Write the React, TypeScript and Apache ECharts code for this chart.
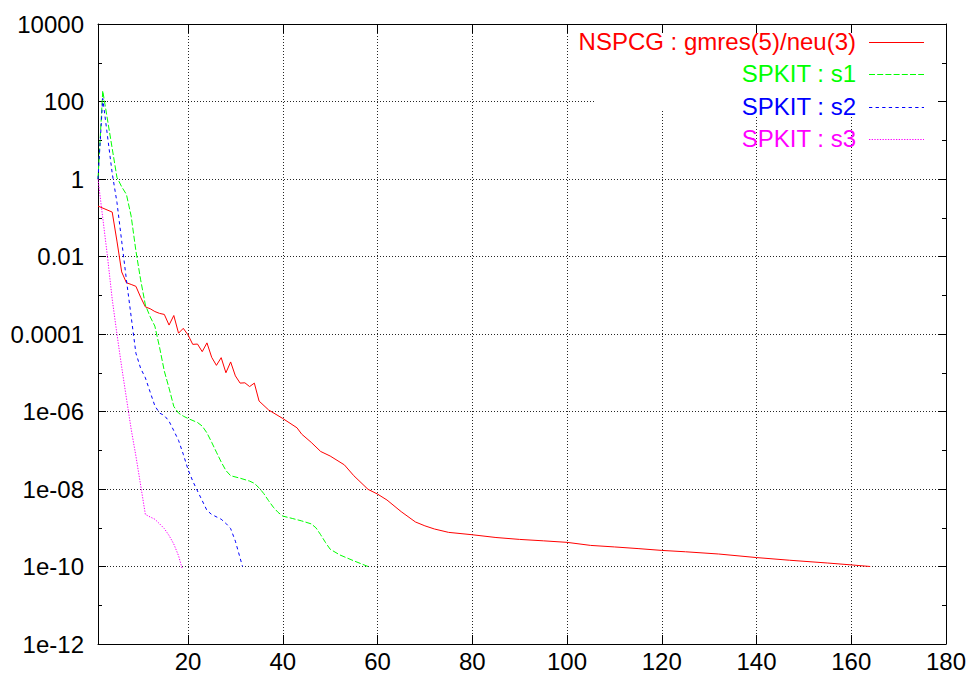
import { useEffect, useRef } from "react";
import * as echarts from "echarts";

const FONT = "'Liberation Sans', Arial, Helvetica, sans-serif";

const xTicks = [20, 40, 60, 80, 100, 120, 140, 160, 180];
const yTickLabels = ["1e-12", "1e-10", "1e-08", "1e-06", "0.0001", "0.01", "1", "100", "10000"];
const seriesNames = ["NSPCG : gmres(5)/neu(3)", "SPKIT : s1", "SPKIT : s2", "SPKIT : s3"];
const seriesColors = ["#ff0000", "#00ff00", "#0000ff", "#ff00ff"];

const nspcgIter = [1, 4, 5, 6, 7, 8, 9, 10, 11, 12, 13, 14, 15, 16, 17, 18, 19, 20, 21, 22, 23, 24, 25, 26, 27, 28, 29, 30, 31, 32, 33, 34, 35, 37, 40, 43, 44, 46, 48, 50, 53, 55, 58, 60, 62, 65, 68, 70, 72, 75, 80, 85, 90, 95, 100, 105, 110, 115, 120, 125, 132, 140, 147, 155, 160, 164];
const nspcgRes = [2.0e-1, 1.4e-1, 2.5e-2, 4.0e-3, 2.1e-3, 1.9e-3, 1.7e-3, 8.9e-4, 5.0e-4, 4.5e-4, 3.8e-4, 3.4e-4, 3.2e-4, 1.7e-4, 3.0e-4, 1.05e-4, 1.4e-4, 9.5e-5, 5.4e-5, 5.5e-5, 3.5e-5, 5.9e-5, 2.5e-5, 1.55e-5, 2.45e-5, 1.0e-5, 1.9e-5, 8.3e-6, 5.4e-6, 5.5e-6, 4.4e-6, 5.4e-6, 1.86e-6, 1.1e-6, 6.6e-7, 3.8e-7, 2.6e-7, 1.6e-7, 9.3e-8, 7.1e-8, 4.2e-8, 2.2e-8, 9.8e-9, 7.4e-9, 5.2e-9, 2.6e-9, 1.41e-9, 1.12e-9, 9.3e-10, 7.6e-10, 6.6e-10, 5.6e-10, 5.0e-10, 4.6e-10, 4.2e-10, 3.5e-10, 3.2e-10, 2.9e-10, 2.6e-10, 2.4e-10, 2.1e-10, 1.7e-10, 1.45e-10, 1.23e-10, 1.1e-10, 1.0e-10];

const s1Iter = [1, 2, 5, 6, 7, 8, 9, 10, 11, 12, 13, 14, 15, 16, 17, 18, 19, 20, 22, 23, 24, 25, 26, 27, 28, 29, 31, 33, 34, 35, 36, 37, 38, 39, 40, 42, 44, 46, 47, 48, 49, 50, 52, 55, 58];
const s1Res = [1, 1.9e2, 1.1, 6.3e-1, 4.0e-1, 1.1e-1, 1.4e-2, 2.5e-3, 5.6e-4, 2.8e-4, 1.6e-4, 4.5e-5, 1.1e-5, 4.0e-6, 1.35e-6, 9.1e-7, 7.6e-7, 6.6e-7, 5.2e-7, 4.2e-7, 2.8e-7, 1.6e-7, 8.9e-8, 5.0e-8, 3.0e-8, 2.2e-8, 1.9e-8, 1.6e-8, 1.4e-8, 1.07e-8, 7.6e-9, 5.0e-9, 3.4e-9, 2.5e-9, 2.0e-9, 1.74e-9, 1.5e-9, 1.26e-9, 1.0e-9, 6.6e-10, 4.2e-10, 2.8e-10, 2.0e-10, 1.4e-10, 1.0e-10];

const s2Iter = [1, 2, 4, 5, 6, 7, 8, 9, 10, 11, 12, 13, 14, 15, 16, 17, 18, 19, 20, 21, 22, 23, 24, 25, 27, 28, 29, 30, 31.5];
const s2Res = [1, 1.2e2, 1.4, 2.5e-1, 2.5e-2, 2.5e-3, 2.8e-4, 3.2e-5, 1.3e-5, 7.4e-6, 3.2e-6, 1.4e-6, 9.1e-7, 7.9e-7, 5.6e-7, 3.2e-7, 1.8e-7, 7.9e-8, 3.2e-8, 1.6e-8, 8.9e-9, 5.0e-9, 2.8e-9, 2.2e-9, 1.66e-9, 1.3e-9, 9.5e-10, 4.5e-10, 1.0e-10];

const s3Iter = [1, 2, 3, 4, 5, 6, 7, 8, 9, 10, 11, 12, 13, 14, 15, 16, 17, 18, 18.8];
const s3Res = [1, 1.0e-1, 1.0e-2, 7.9e-4, 1.0e-4, 1.4e-5, 2.2e-6, 3.5e-7, 7.1e-8, 1.26e-8, 2.2e-9, 1.9e-9, 1.66e-9, 1.26e-9, 9.5e-10, 6.3e-10, 3.8e-10, 1.9e-10, 8.5e-11];

const lineDashes: any[] = ["solid", [6, 2.2], [3.3, 3.3], [1.3, 1.4]];

function toPoints(iter: number[], res: number[]) {
  return iter.map((x, i) => [x, Math.log10(res[i])]);
}

export default function App() {
  const ref = useRef<HTMLDivElement>(null);

  useEffect(() => {
    if (!ref.current) return;
    const chart = echarts.init(ref.current, null, { renderer: "svg" });

    const allData = [
      toPoints(nspcgIter, nspcgRes),
      toPoints(s1Iter, s1Res),
      toPoints(s2Iter, s2Res),
      toPoints(s3Iter, s3Res),
    ];

    const axisLine = { show: true, onZero: false, lineStyle: { color: "#000", width: 1 } };
    const gridLine = { show: true, lineStyle: { color: "#000", width: 1, type: [1, 2] as any, opacity: 0.85 } };

    const legendRowsY = [41, 73, 106, 138];
    const legendLinesY = [42.5, 74.5, 107.5, 139.5];

    const graphic: any[] = [
      { type: "rect", id: "blank1", z: 1, silent: true, shape: { x: 594, y: 33, width: 110, height: 76 }, style: { fill: "#fff" } },
      { type: "rect", id: "blank2", z: 1, silent: true, shape: { x: 704, y: 33, width: 233, height: 82 }, style: { fill: "#fff" } },
    ];
    seriesNames.forEach((name, i) => {
      graphic.push({
        type: "text",
        id: "ltext" + i,
        z: 100,
        x: 856,
        y: legendRowsY[i],
        style: {
          text: name,
          fill: seriesColors[i],
          font: `24px ${FONT}`,
          align: "right",
          verticalAlign: "middle",
        },
      });
      if (i === 0) {
        graphic.push({
          type: "rect",
          id: "lline" + i,
          z: 100,
          silent: true,
          shape: { x: 869, y: legendLinesY[i] - 0.5, width: 55, height: 1 },
          style: { fill: seriesColors[i], stroke: null },
        });
      } else {
        graphic.push({
          type: "line",
          id: "lline" + i,
          z: 100,
          silent: true,
          shape: { x1: 869, y1: legendLinesY[i], x2: 924, y2: legendLinesY[i] },
          style: { stroke: seriesColors[i], lineWidth: 1, lineDash: lineDashes[i] },
        });
      }
    });

    chart.setOption({
      animation: false,
      backgroundColor: "#fff",
      grid: { left: 98, right: 24, top: 24, bottom: 28, containLabel: false },
      xAxis: [
        {
          type: "value",
          min: 1,
          max: 180,
          position: "bottom",
          axisLine,
          axisTick: { show: true, inside: true, length: 9, customValues: xTicks, lineStyle: { color: "#000" } },
          axisLabel: { customValues: xTicks, color: "#000", fontSize: 24, fontFamily: FONT, margin: 5 },
          splitLine: gridLine,
        },
        {
          type: "value",
          min: 1,
          max: 180,
          position: "top",
          axisLine,
          axisTick: { show: true, inside: true, length: 9, customValues: xTicks, lineStyle: { color: "#000" } },
          axisLabel: { show: false, customValues: xTicks },
          splitLine: { show: false },
        },
      ],
      yAxis: [
        {
          type: "value",
          min: -12,
          max: 4,
          interval: 2,
          position: "left",
          axisLine,
          axisTick: { show: true, inside: true, length: 8, lineStyle: { color: "#000" } },
          minorTick: { show: true, splitNumber: 2, length: 4, lineStyle: { color: "#000" } },
          axisLabel: {
            color: "#000",
            fontSize: 24,
            fontFamily: FONT,
            margin: 14,
            formatter: (v: number) => yTickLabels[Math.round((v + 12) / 2)] ?? "",
          },
          splitLine: gridLine,
        },
        {
          type: "value",
          min: -12,
          max: 4,
          interval: 2,
          position: "right",
          axisLine,
          axisTick: { show: true, inside: true, length: 8, lineStyle: { color: "#000" } },
          minorTick: { show: true, splitNumber: 2, length: 4, lineStyle: { color: "#000" } },
          axisLabel: { show: false },
          splitLine: { show: false },
        },
      ],
      series: allData.map((data, i) => ({
        name: seriesNames[i],
        type: "line",
        xAxisIndex: 0,
        yAxisIndex: 0,
        data,
        showSymbol: false,
        symbol: "none",
        silent: true,
        z: 3,
        lineStyle: { color: seriesColors[i], width: 1, type: lineDashes[i] },
      })),
      graphic,
    });

    return () => chart.dispose();
  }, []);

  return (
    <div
      ref={ref}
      style={{ position: "fixed", left: 0, top: 0, width: 970, height: 673, background: "#fff" }}
    />
  );
}
